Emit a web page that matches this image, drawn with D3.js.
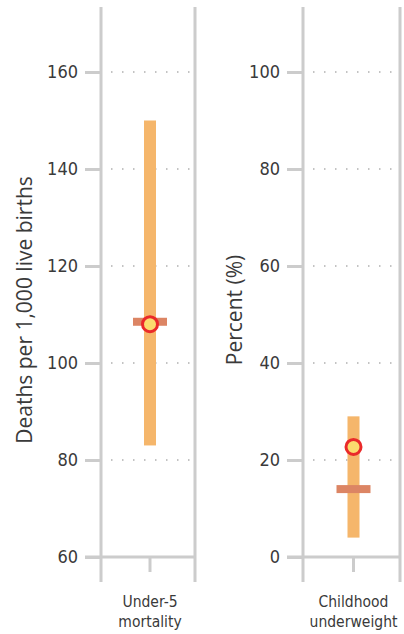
<!DOCTYPE html>
<html>
<head>
<meta charset="utf-8">
<script src="https://cdn.jsdelivr.net/npm/d3@7"></script>
<style>
  body { margin: 0; background: #fff; }
  svg { display: block; }
</style>
</head>
<body>
<div id="chart"></div>
<script>
// Chart values
const categories = ["Under-5 mortality", "Childhood underweight"];
const categoryLines = [["Under-5", "mortality"], ["Childhood", "underweight"]];
const axisTitles = ["Deaths per 1,000 live births", "Percent (%)"];
const rangeLow = [83, 4];
const rangeHigh = [150, 29];
const benchmark = [108.5, 14];
const pointValue = [108, 22.7];
const yDomains = [[60, 173.4], [0, 113.4]];
const yTicks = [[60, 80, 100, 120, 140, 160], [0, 20, 40, 60, 80, 100]];

const W = 404, H = 634;
const plotTop = 7, baseY = 557, axisBottom = 582;
const panels = [
    { left: 101, right: 195, titleX: 32 },
    { left: 303, right: 400, titleX: 242 }
];

const axisGray = "#cccccc";
const textCol = "#3a3a3a";
const labelFont = "'Liberation Sans Narrow', 'DejaVu Sans Condensed', sans-serif";

const svg = d3.select("#chart").append("svg")
    .attr("width", W)
    .attr("height", H);

panels.forEach((p, i) => {
    const g = svg.append("g");

    const y = d3.scaleLinear()
        .domain(yDomains[i])
        .range([baseY, plotTop]);

    const x = d3.scaleBand()
        .domain([categories[i]])
        .range([p.left, p.right]);
    const cx = x(categories[i]) + x.bandwidth() / 2 + 2;

    // dotted gridlines
    g.selectAll("line.grid")
        .data(yTicks[i].slice(1))
        .enter().append("line")
        .attr("class", "grid")
        .attr("x1", p.left + 10)
        .attr("x2", p.right)
        .attr("y1", d => y(d))
        .attr("y2", d => y(d))
        .attr("stroke", "#b0b0b0")
        .attr("stroke-width", 1.5)
        .attr("stroke-dasharray", "1.5,9.5");

    // left axis
    const yAxis = g.append("g")
        .attr("transform", `translate(${p.left},0)`)
        .call(d3.axisLeft(y).tickValues(yTicks[i]).tickSize(16).tickPadding(7));
    yAxis.select(".domain").remove();
    yAxis.selectAll(".tick line").attr("stroke", axisGray).attr("stroke-width", 3);
    yAxis.selectAll(".tick text")
        .attr("fill", textCol)
        .style("font-family", labelFont)
        .style("font-size", "18px");

    // vertical frame lines
    [p.left, p.right].forEach(xx => {
        g.append("line")
            .attr("x1", xx).attr("x2", xx)
            .attr("y1", plotTop).attr("y2", axisBottom)
            .attr("stroke", axisGray)
            .attr("stroke-width", 3);
    });

    // baseline
    g.append("line")
        .attr("x1", p.left - 16).attr("x2", p.right)
        .attr("y1", baseY).attr("y2", baseY)
        .attr("stroke", axisGray)
        .attr("stroke-width", 3);

    // category tick
    g.append("line")
        .attr("x1", cx).attr("x2", cx)
        .attr("y1", baseY).attr("y2", baseY + 15)
        .attr("stroke", axisGray)
        .attr("stroke-width", 3);

    // category label
    const lbl = g.append("text")
        .attr("x", cx)
        .attr("y", 607)
        .attr("text-anchor", "middle")
        .attr("fill", textCol)
        .style("font-family", labelFont)
        .style("font-size", "15.5px");
    categoryLines[i].forEach((t, j) => {
        lbl.append("tspan").attr("x", cx).attr("dy", j === 0 ? 0 : 20).text(t);
    });

    // axis title
    g.append("text")
        .attr("transform", `translate(${p.titleX},${(plotTop + baseY) / 2 + 28}) rotate(-90)`)
        .attr("text-anchor", "middle")
        .attr("fill", textCol)
        .style("font-family", "'Open Sans', sans-serif")
        .style("font-size", "21px")
        .text(axisTitles[i]);

    // range bar
    g.append("rect")
        .attr("x", cx - 6)
        .attr("width", 12)
        .attr("y", y(rangeHigh[i]))
        .attr("height", y(rangeLow[i]) - y(rangeHigh[i]))
        .attr("fill", "#f5b66b");

    // benchmark marker
    g.append("rect")
        .attr("x", cx - 17)
        .attr("width", 34)
        .attr("y", y(benchmark[i]) - 4)
        .attr("height", 8)
        .attr("fill", "#dc8564");

    // point estimate
    g.append("circle")
        .attr("cx", cx)
        .attr("cy", y(pointValue[i]))
        .attr("r", 7.5)
        .attr("fill", "#fbdc6e")
        .attr("stroke", "#ea2a2a")
        .attr("stroke-width", 3);
});
</script>
</body>
</html>
